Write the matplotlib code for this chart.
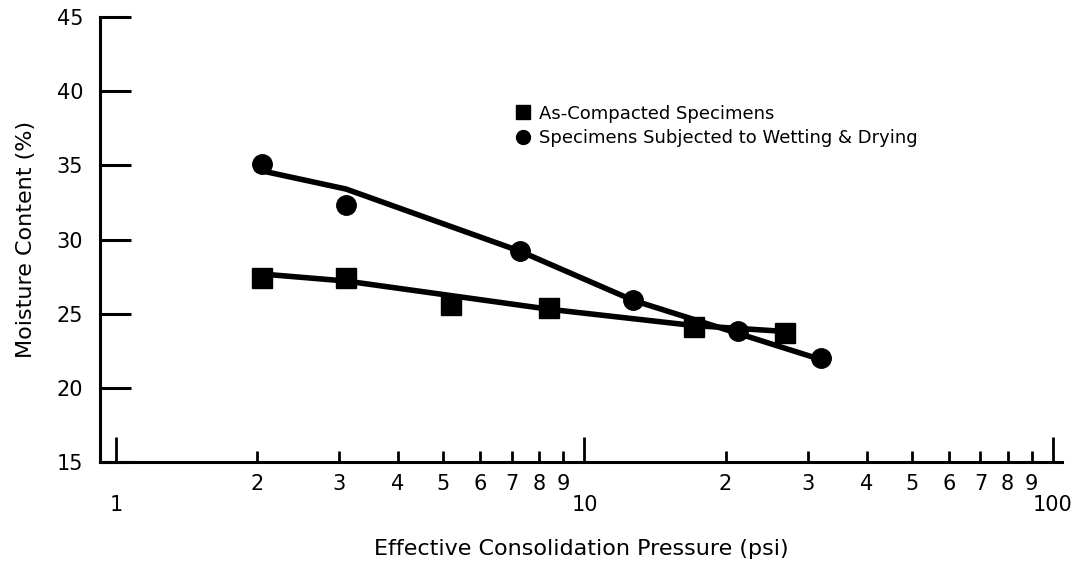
import matplotlib
matplotlib.use('Agg')
import matplotlib.pyplot as plt
from matplotlib.ticker import FixedLocator, FixedFormatter
from matplotlib.lines import Line2D

plt.rcParams['font.family'] = ['DejaVu Sans']

# As-compacted specimens (squares)
compacted_p = [2.05, 3.1, 5.2, 8.4, 17.1, 26.8]
compacted_w = [27.4, 27.4, 25.6, 25.4, 24.1, 23.7]
# trend line drawn through the squares
compacted_fit_p = [2.0, 3.1, 8.4, 17.1, 26.8]
compacted_fit_w = [27.7, 27.2, 25.3, 24.2, 23.8]

# specimens subjected to wetting & drying (circles)
wetdry_p = [2.05, 3.1, 7.3, 12.7, 21.3, 32.0]
wetdry_w = [35.1, 32.3, 29.2, 25.9, 23.8, 22.0]
wetdry_fit_p = [2.0, 3.1, 7.3, 12.7, 32.0]
wetdry_fit_w = [34.7, 33.4, 29.2, 25.9, 21.9]

major_x = [1, 10, 100]
major_lbl = ['1', '10', '100']
minor_x = [2, 3, 4, 5, 6, 7, 8, 9, 20, 30, 40, 50, 60, 70, 80, 90]
minor_lbl = ['2', '3', '4', '5', '6', '7', '8', '9', '2', '3', '4', '5', '6', '7', '8', '9']
y_ticks = [15, 20, 25, 30, 35, 40, 45]

fig = plt.figure(figsize=(10.91, 5.61), dpi=100)
ax = fig.add_axes([100 / 1091, 1 - 462 / 561, 962 / 1091, 445 / 561])

ax.plot(compacted_fit_p, compacted_fit_w, color='black', linewidth=4, solid_capstyle='round',
        solid_joinstyle='round')
ax.plot(wetdry_fit_p, wetdry_fit_w, color='black', linewidth=4, solid_capstyle='round',
        solid_joinstyle='round')
ax.plot(compacted_p, compacted_w, 's', color='black', markersize=14)
ax.plot(wetdry_p, wetdry_w, 'o', color='black', markersize=14)

ax.set_xscale('log')
ax.set_xlim(0.925, 104.5)
ax.set_ylim(15, 45)

ax.xaxis.set_major_locator(FixedLocator(major_x))
ax.xaxis.set_major_formatter(FixedFormatter(major_lbl))
ax.xaxis.set_minor_locator(FixedLocator(minor_x))
ax.xaxis.set_minor_formatter(FixedFormatter(minor_lbl))
ax.set_yticks(y_ticks)

ax.tick_params(axis='x', which='major', direction='in', length=18, width=2, pad=24, labelsize=15)
ax.tick_params(axis='x', which='minor', direction='in', length=8, width=2, pad=9, labelsize=15)
ax.tick_params(axis='y', direction='in', length=22, width=2.2, pad=12, labelsize=15)

for s in ['top', 'right']:
    ax.spines[s].set_visible(False)
for s in ['left', 'bottom']:
    ax.spines[s].set_linewidth(2.2)

ax.set_xlabel('Effective Consolidation Pressure (psi)', fontsize=16, labelpad=17)
ax.set_ylabel('Moisture Content (%)', fontsize=16, labelpad=15)

handles = [Line2D([], [], marker='s', color='black', linestyle='none', markersize=10),
           Line2D([], [], marker='o', color='black', linestyle='none', markersize=10)]
ax.legend(handles, ['As-Compacted Specimens', 'Specimens Subjected to Wetting & Drying'],
          loc='upper left', bbox_to_anchor=(0.423, 0.823), frameon=False, fontsize=13,
          handlelength=0.8, handletextpad=0.5, labelspacing=0.35, borderpad=0)

fig.savefig('out.png', dpi=100)
